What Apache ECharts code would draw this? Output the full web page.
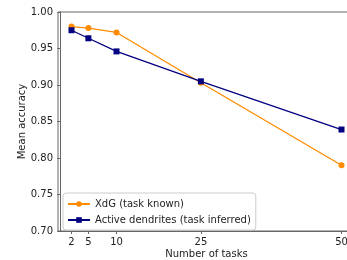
<!DOCTYPE html>
<html>
<head>
<meta charset="utf-8">
<script src="https://cdn.jsdelivr.net/npm/echarts@6/dist/echarts.min.js"></script>
<style>
html,body{margin:0;padding:0;background:#fff;}
#chart{width:347px;height:260px;}
</style>
</head>
<body>
<div id="chart"></div>
<script>
// number of tasks
var tasks = [2, 5, 10, 25, 50];
var xdg = [0.980, 0.978, 0.972, 0.903, 0.790];
var dendrites = [0.975, 0.964, 0.946, 0.905, 0.839];

function pairs(xs, ys) {
    return xs.map(function (x, i) { return [x, ys[i]]; });
}

var myChart = echarts.init(document.getElementById('chart'));
var font = 'DejaVu Sans';
option = {
    animation: false,
    grid: {
        left: 58,
        width: 297,
        top: 12,
        height: 219,
        outerBoundsMode: 'none',
        containLabel: false,
        show: true,
        borderColor: '#666',
        borderWidth: 1
    },
    xAxis: {
        type: 'value',
        min: -0.4,
        max: 52.4,
        name: 'Number of tasks',
        nameLocation: 'middle',
        nameMoveOverlap: false,
        nameGap: 18,
        nameTextStyle: {fontFamily: font, fontSize: 10, color: '#222'},
        axisLine: {lineStyle: {color: '#666'}},
        axisTick: {show: true, customValues: tasks, length: 3, lineStyle: {color: '#666'}},
        axisLabel: {customValues: tasks, fontFamily: font, fontSize: 10, color: '#222', margin: 6},
        splitLine: {show: false}
    },
    yAxis: {
        type: 'value',
        min: 0.70,
        max: 1.00,
        interval: 0.05,
        name: 'Mean accuracy',
        nameLocation: 'middle',
        nameMoveOverlap: false,
        nameGap: 31,
        nameTextStyle: {fontFamily: font, fontSize: 10, color: '#222'},
        axisLine: {show: true, lineStyle: {color: '#666'}},
        axisTick: {show: true, length: 3, lineStyle: {color: '#666'}},
        axisLabel: {
            fontFamily: font, fontSize: 10, color: '#222', margin: 5,
            formatter: function (v) { return v.toFixed(2); }
        },
        splitLine: {show: false}
    },
    legend: {
        orient: 'vertical',
        left: 63,
        top: 193,
        padding: [6, 5, 5, 4],
        itemGap: 6,
        itemWidth: 22,
        itemHeight: 7,
        backgroundColor: '#fff',
        borderColor: '#ccc',
        borderWidth: 1,
        borderRadius: 3,
        textStyle: {fontFamily: font, fontSize: 10, color: '#222'},
        data: ['XdG (task known)', 'Active dendrites (task inferred)']
    },
    series: [
        {
            name: 'XdG (task known)',
            type: 'line',
            data: pairs(tasks, xdg),
            symbol: 'circle',
            symbolSize: 6,
            color: '#ff8c00',
            lineStyle: {width: 1.3}
        },
        {
            name: 'Active dendrites (task inferred)',
            type: 'line',
            data: pairs(tasks, dendrites),
            symbol: 'rect',
            symbolSize: 6,
            color: '#000080',
            lineStyle: {width: 1.3}
        }
    ]
};
myChart.setOption(option);
</script>
</body>
</html>
